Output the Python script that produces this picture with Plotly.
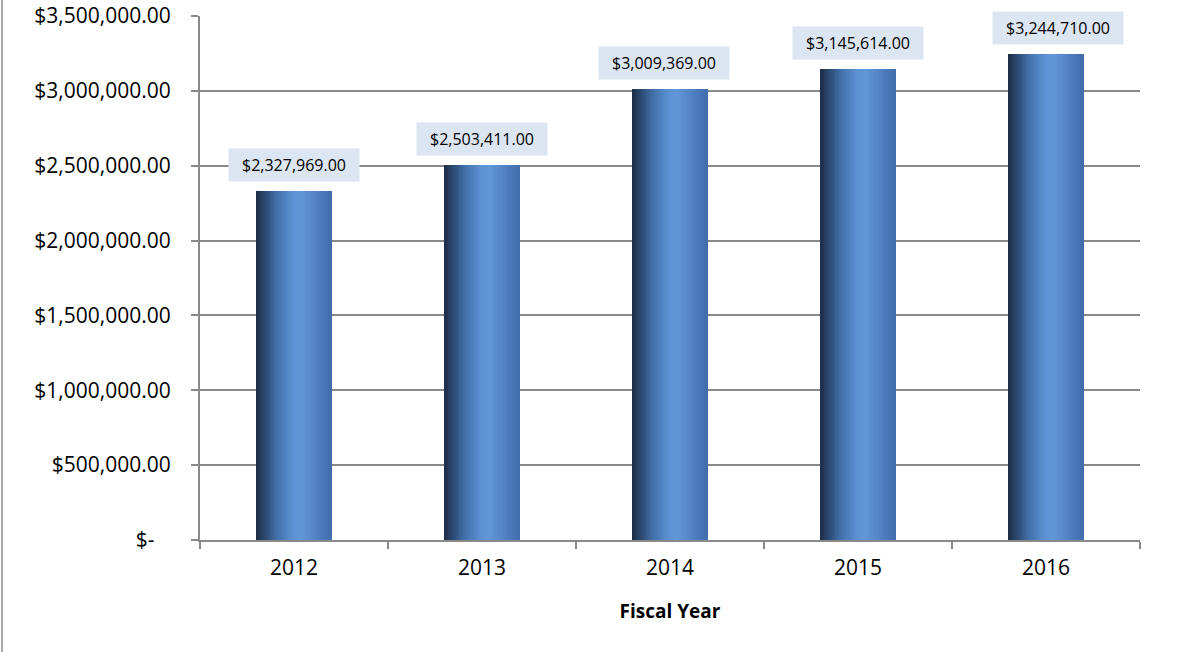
import plotly.graph_objects as go

years = ["2012", "2013", "2014", "2015", "2016"]
values = [2327969.00, 2503411.00, 3009369.00, 3145614.00, 3244710.00]
label_texts = ["$2,327,969.00", "$2,503,411.00", "$3,009,369.00", "$3,145,614.00", "$3,244,710.00"]
ytick_vals = [0, 500000, 1000000, 1500000, 2000000, 2500000, 3000000, 3500000]
ytick_text = ["$-\u00a0\u00a0\u00a0", "$500,000.00", "$1,000,000.00", "$1,500,000.00", "$2,000,000.00",
              "$2,500,000.00", "$3,000,000.00", "$3,500,000.00"]
x_title = "Fiscal Year"

# gradient stops across the bar width (cylinder-like shading)
stops = [(0.0, (27, 43, 68)), (0.12, (45, 75, 117)), (0.3, (70, 117, 176)),
         (0.5, (93, 147, 212)), (0.6, (98, 152, 218)), (0.75, (84, 134, 200)),
         (0.9, (72, 118, 184)), (1.0, (66, 110, 172))]


def color_at(t):
    for (t0, c0), (t1, c1) in zip(stops[:-1], stops[1:]):
        if t0 <= t <= t1:
            f = (t - t0) / (t1 - t0) if t1 > t0 else 0
            return "rgb(%d,%d,%d)" % tuple(round(a + (b - a) * f) for a, b in zip(c0, c1))
    return "rgb(%d,%d,%d)" % stops[-1][1]


N = 40
bar_w = 0.4
fig = go.Figure()
for i in range(N):
    w = bar_w / N
    fig.add_trace(go.Bar(
        x=years, y=values,
        width=w * (1.6 if i < N - 1 else 1.0),
        offset=-bar_w / 2 + i * w,
        marker=dict(color=color_at((i + 0.5) / N), line=dict(width=0)),
        hoverinfo="skip", showlegend=False,
    ))

label_xshift = [0, 0, -6, 0, 12]
annotations = []
for idx, (v, t, dx) in enumerate(zip(values, label_texts, label_xshift)):
    annotations.append(dict(
        x=idx, y=v, xref="x", yref="y", text=t, showarrow=False,
        xanchor="center", yanchor="bottom",
        yshift=9, xshift=dx, bgcolor="#dce6f2", borderpad=5, width=120,
        font=dict(family="Open Sans", size=16, color="#000000"),
    ))

grid_c = "#8a8a8a"
fig.update_layout(
    width=1178, height=652,
    margin=dict(l=200, r=38, t=16, b=112),
    paper_bgcolor="white", plot_bgcolor="white",
    barmode="overlay", bargap=0,
    font=dict(family="Open Sans", color="#000000"),
    annotations=annotations,
    shapes=[dict(type="line", xref="paper", yref="paper",
                 x0=-198 / 940, x1=-198 / 940, y0=-112 / 524, y1=1 + 16 / 524,
                 line=dict(color="#8c8c8c", width=1.5))],
    xaxis=dict(
        type="category", tickson="boundaries", ticks="outside", ticklen=7,
        tickcolor=grid_c, tickwidth=1.5, showline=True, linecolor=grid_c, linewidth=2,
        showgrid=False, tickfont=dict(size=21, family="Open Sans"), ticklabelstandoff=8,
        title=dict(text="<b>" + x_title + "</b>", font=dict(size=19, family="Open Sans"), standoff=24),
        range=[-0.5, 4.5], automargin=False,
    ),
    yaxis=dict(
        range=[0, 3500000], tickvals=ytick_vals, ticktext=ytick_text,
        ticks="outside", ticklen=7, tickcolor=grid_c, tickwidth=1.5,
        showline=True, linecolor=grid_c, linewidth=2,
        showgrid=True, gridcolor=grid_c, gridwidth=2, zeroline=False,
        tickfont=dict(size=21, family="Open Sans"), ticklabelstandoff=16,
        automargin=False,
    ),
)

fig.write_html("out.html", config={"displayModeBar": False},
               post_script="document.body.style.margin='0';")
